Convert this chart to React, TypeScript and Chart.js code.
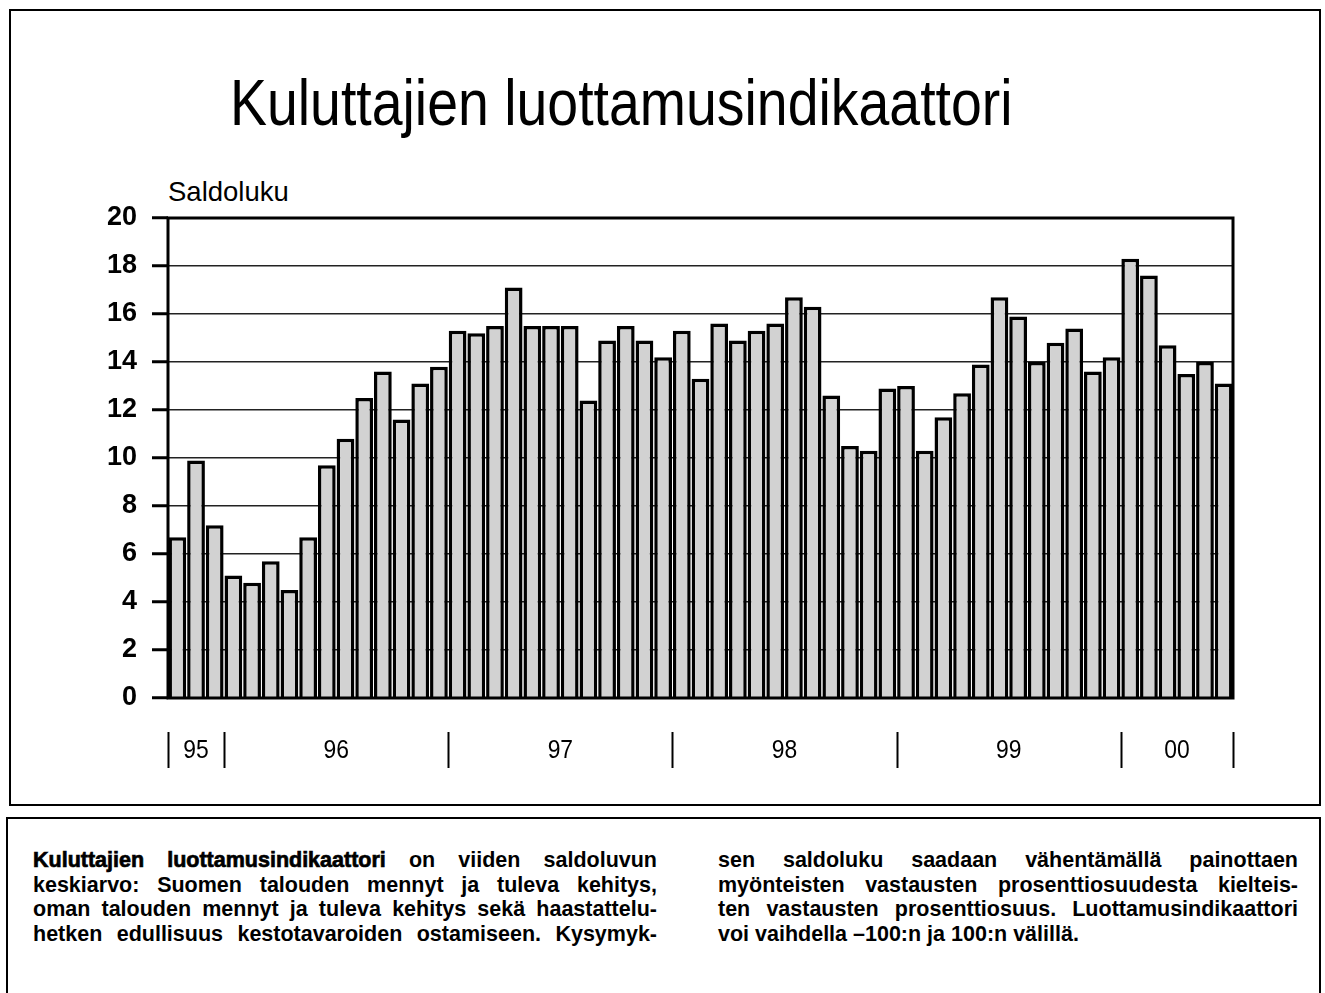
import React, { useEffect, useRef } from "react";
import { Chart, registerables } from "chart.js";

Chart.register(...registerables);

// ---- data ----
const yearLabels = ["95", "96", "97", "98", "99", "00"];
const monthsPerYear = [3, 12, 12, 12, 12, 6];
const firstMonth = [10, 1, 1, 1, 1, 1];
const values = [
  6.7, 9.9, 7.2,
  5.1, 4.8, 5.7, 4.5, 6.7, 9.7, 10.8, 12.5, 13.6, 11.6, 13.1, 13.8,
  15.3, 15.2, 15.5, 17.1, 15.5, 15.5, 15.5, 12.4, 14.9, 15.5, 14.9, 14.2,
  15.3, 13.3, 15.6, 14.9, 15.3, 15.6, 16.7, 16.3, 12.6, 10.5, 10.3, 12.9,
  13.0, 10.3, 11.7, 12.7, 13.9, 16.7, 15.9, 14.0, 14.8, 15.4, 13.6, 14.2,
  18.3, 17.6, 14.7, 13.5, 14.0, 13.1,
];
const yMin = 0;
const yMax = 20;
const yStep = 2;
const titleText = "Kuluttajien luottamusindikaattori";
const yAxisTitle = "Saldoluku";

const categories: string[] = [];
yearLabels.forEach((y, i) => {
  for (let k = 0; k < monthsPerYear[i]; k++) {
    categories.push(`${firstMonth[i] + k}/${y}`);
  }
});

const SANS = '"Liberation Sans", Arial, Helvetica, sans-serif';

const framePlugin = {
  id: "frame",
  afterDatasetsDraw(chart: any) {
    const { ctx, chartArea } = chart;
    ctx.save();
    ctx.strokeStyle = "#000";
    ctx.lineWidth = 3;
    ctx.strokeRect(chartArea.left, chartArea.top, chartArea.right - chartArea.left, chartArea.bottom - chartArea.top);
    ctx.restore();
  },
};

const yearAxisPlugin = {
  id: "yearAxis",
  afterDraw(chart: any) {
    const { ctx, chartArea } = chart;
    const x = chart.scales.x;
    const step = x.getPixelForValue(1) - x.getPixelForValue(0);
    const top = chartArea.bottom + 34;
    const bottom = chartArea.bottom + 70;
    ctx.save();
    ctx.strokeStyle = "#000";
    ctx.lineWidth = 2;
    ctx.fillStyle = "#000";
    ctx.font = `26px ${SANS}`;
    ctx.textAlign = "center";
    ctx.textBaseline = "middle";
    let idx = 0;
    const bounds: number[] = [];
    for (let i = 0; i < yearLabels.length; i++) {
      const start = x.getPixelForValue(idx) - step / 2;
      const end = x.getPixelForValue(idx + monthsPerYear[i] - 1) + step / 2;
      bounds.push(start);
      if (i === yearLabels.length - 1) bounds.push(end);
      ctx.save();
      ctx.translate((start + end) / 2, (top + bottom) / 2 + 1);
      ctx.scale(0.88, 1);
      ctx.fillText(yearLabels[i], 0, 0);
      ctx.restore();
      idx += monthsPerYear[i];
    }
    bounds.forEach((b) => {
      ctx.beginPath();
      ctx.moveTo(Math.round(b) + 0.5, top);
      ctx.lineTo(Math.round(b) + 0.5, bottom);
      ctx.stroke();
    });
    ctx.restore();
  },
};

function ChartCanvas() {
  const ref = useRef<HTMLCanvasElement | null>(null);
  useEffect(() => {
    if (!ref.current) return;
    const chart = new Chart(ref.current, {
      type: "bar",
      data: {
        labels: categories,
        datasets: [
          {
            data: values,
            backgroundColor: "#d2d2d2",
            borderColor: "#000",
            borderWidth: 3.5,
            barPercentage: 0.95,
            categoryPercentage: 1,
          },
        ],
      },
      options: {
        responsive: false,
        animation: false,
        layout: { padding: { left: 0, top: 218, right: 92, bottom: 108 } },
        plugins: { legend: { display: false }, tooltip: { enabled: false }, title: { display: false } },
        scales: {
          x: { display: false },
          y: {
            min: yMin,
            max: yMax,
            ticks: {
              stepSize: yStep,
              color: "#000",
              padding: 15,
              font: { family: SANS, size: 27, weight: "bold" },
            },
            grid: {
              color: "#222",
              lineWidth: 1.5,
              borderDash: [2, 3],
              tickLength: 16,
              tickColor: "#000",
              tickWidth: 3,
              tickBorderDash: [],
            },
            border: { display: false },
            afterFit: (scale: any) => {
              scale.width = 168;
            },
          },
        },
      },
      plugins: [framePlugin, yearAxisPlugin],
    } as any);
    return () => chart.destroy();
  }, []);
  return (
    <canvas
      ref={ref}
      width={1325}
      height={806}
      style={{ position: "absolute", left: 0, top: 0, width: 1325, height: 806 }}
    />
  );
}

const lineStyle: React.CSSProperties = {
  textAlign: "justify",
  textAlignLast: "justify" as any,
  whiteSpace: "nowrap",
  height: 24.5,
};

export default function App() {
  return (
    <div
      style={{
        position: "absolute",
        left: 0,
        top: 0,
        width: 1325,
        height: 993,
        overflow: "hidden",
        background: "#fff",
        color: "#000",
      }}
    >
      <div
        style={{
          position: "absolute",
          left: 9,
          top: 9,
          width: 1312,
          height: 797,
          border: "2px solid #000",
          boxSizing: "border-box",
        }}
      />
      <div
        style={{
          position: "absolute",
          left: 230,
          top: 71,
          fontFamily: SANS,
          fontSize: 64,
          lineHeight: "64px",
          whiteSpace: "nowrap",
          transform: "scaleX(0.866)",
          transformOrigin: "0 0",
        }}
      >
        {titleText}
      </div>
      <div
        style={{
          position: "absolute",
          left: 168,
          top: 178,
          fontFamily: SANS,
          fontSize: 27.5,
          lineHeight: "27.5px",
          whiteSpace: "nowrap",
        }}
      >
        {yAxisTitle}
      </div>
      <ChartCanvas />
      <div
        style={{
          position: "absolute",
          left: 6,
          top: 817,
          width: 1315,
          height: 200,
          border: "2px solid #000",
          boxSizing: "border-box",
        }}
      />
      <div
        style={{
          position: "absolute",
          left: 33,
          top: 848,
          width: 624,
          fontFamily: SANS,
          fontWeight: "bold",
          fontSize: 21.5,
          lineHeight: "24.5px",
        }}
      >
        <div style={lineStyle}>
          <span style={{ WebkitTextStroke: "0.7px #000" } as any}>Kuluttajien luottamusindikaattori</span> on viiden saldoluvun
        </div>
        <div style={lineStyle}>keskiarvo: Suomen talouden mennyt ja tuleva kehitys,</div>
        <div style={lineStyle}>oman talouden mennyt ja tuleva kehitys sekä haastattelu-</div>
        <div style={lineStyle}>hetken edullisuus kestotavaroiden ostamiseen. Kysymyk-</div>
      </div>
      <div
        style={{
          position: "absolute",
          left: 718,
          top: 848,
          width: 580,
          fontFamily: SANS,
          fontWeight: "bold",
          fontSize: 21.5,
          lineHeight: "24.5px",
        }}
      >
        <div style={lineStyle}>sen saldoluku saadaan vähentämällä painottaen</div>
        <div style={lineStyle}>myönteisten vastausten prosenttiosuudesta kielteis-</div>
        <div style={lineStyle}>ten vastausten prosenttiosuus. Luottamusindikaattori</div>
        <div style={{ ...lineStyle, textAlignLast: "left" as any }}>voi vaihdella –100:n ja 100:n välillä.</div>
      </div>
    </div>
  );
}
